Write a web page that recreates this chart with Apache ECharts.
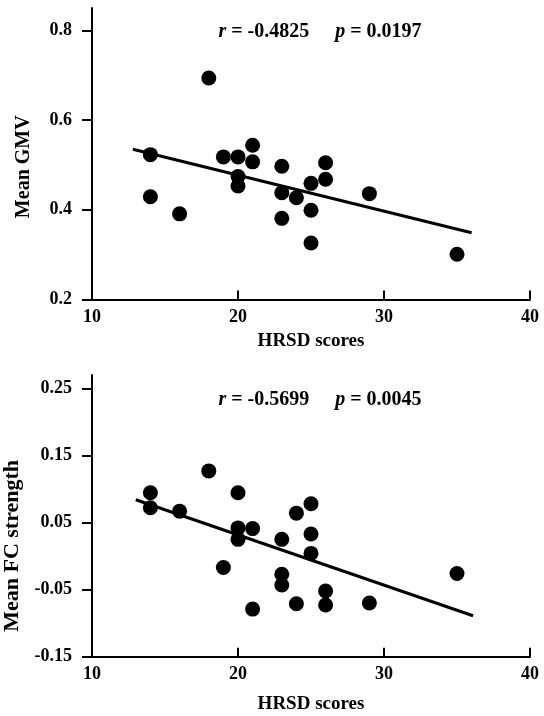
<!DOCTYPE html>
<html>
<head>
<meta charset="utf-8">
<script src="https://cdn.jsdelivr.net/npm/echarts@6/dist/echarts.min.js"></script>
<style>
  html, body { margin: 0; padding: 0; background: #fff; }
  #chart { width: 544px; height: 716px; }
</style>
</head>
<body>
<div id="chart"></div>
<script>
// 上图: HRSD vs Mean GMV
var gmvX = [14, 14, 16, 18, 19, 20, 20, 20, 21, 21, 23, 23, 23, 24, 25, 25, 25, 26, 26, 29, 35];
var gmvY = [0.523, 0.429, 0.391, 0.694, 0.518, 0.518, 0.474, 0.453, 0.544, 0.507, 0.497, 0.438, 0.381, 0.427, 0.459, 0.399, 0.326, 0.505, 0.468, 0.436, 0.301];
var gmvFitX = [12.8, 36.0];
var gmvFitY = [0.535, 0.349];

// 下图: HRSD vs Mean FC strength
var fcX = [14, 14, 16, 18, 19, 20, 20, 20, 21, 21, 23, 23, 23, 24, 24, 25, 25, 25, 26, 26, 29, 35];
var fcY = [0.0945, 0.072, 0.067, 0.127, -0.017, 0.0945, 0.042, 0.025, 0.041, -0.079, 0.025, -0.027, -0.043, 0.064, -0.071, 0.078, 0.033, 0.004, -0.052, -0.073, -0.070, -0.026];
var fcFitX = [13.0, 36.1];
var fcFitY = [0.084, -0.089];

var xTicks = [10, 20, 30, 40];
var gmvTicks = [0.2, 0.4, 0.6, 0.8];
var fcTicks = [-0.15, -0.05, 0.05, 0.15, 0.25];

var gmvStat = ['-0.4825', '0.0197'];
var fcStat = ['-0.5699', '0.0045'];

function pairs(xs, ys) {
    return xs.map(function (x, i) { return [x, ys[i]]; });
}

var FONT = 'Liberation Serif';
var axisLine = { onZero: false, lineStyle: { color: '#000', width: 2 } };
var labelStyle = { color: '#000', fontFamily: FONT, fontWeight: 'bold', fontSize: 18 };

function xAxisOf(gridIndex, gap) {
    return {
        type: 'value', gridIndex: gridIndex, min: 10, max: 40, interval: 10,
        name: 'HRSD scores', nameLocation: 'middle', nameGap: gap,
        nameTextStyle: { color: '#000', fontFamily: FONT, fontWeight: 'bold', fontSize: 19 },
        axisLine: axisLine,
        axisTick: { inside: true, length: 9, customValues: xTicks, lineStyle: { color: '#000', width: 2 } },
        axisLabel: Object.assign({ margin: 9, customValues: xTicks }, labelStyle),
        splitLine: { show: false }
    };
}

function yAxisOf(gridIndex, min, max, ticks, name, gap, size, pad, digits) {
    return {
        type: 'value', gridIndex: gridIndex, min: min, max: max,
        name: name, nameLocation: 'middle', nameGap: gap, nameRotate: 90,
        nameTextStyle: { color: '#000', fontFamily: FONT, fontWeight: 'bold', fontSize: size, padding: [0, pad, 0, 0] },
        axisLine: axisLine,
        axisTick: { length: 10, customValues: ticks, lineStyle: { color: '#000', width: 2 } },
        axisLabel: Object.assign({
            margin: 20, customValues: ticks,
            formatter: function (v) { return v.toFixed(digits); }
        }, labelStyle),
        splitLine: { show: false }
    };
}

// r / p 注释, 居中于绘图区
function statText(y, vals) {
    return {
        type: 'text', x: 320, y: y,
        style: {
            text: '{i|r}{n| = ' + vals[0] + '}{g|}{i|p}{n| = ' + vals[1] + '}',
            align: 'center', verticalAlign: 'middle',
            fill: '#000',
            rich: {
                i: { fontFamily: FONT, fontWeight: 'bold', fontStyle: 'italic', fontSize: 20, fill: '#000' },
                n: { fontFamily: FONT, fontWeight: 'bold', fontSize: 20, fill: '#000' },
                g: { width: 26 }
            }
        }
    };
}

var chart = echarts.init(document.getElementById('chart'));

chart.setOption({
    backgroundColor: '#fff',
    animation: false,
    grid: [
        { left: 92, right: 14, top: 8, height: 291.5, outerBoundsMode: 'none' },
        { left: 92, right: 14, top: 375, height: 281.7, outerBoundsMode: 'none' }
    ],
    xAxis: [xAxisOf(0, 32), xAxisOf(1, 38)],
    yAxis: [
        yAxisOf(0, 0.2, 0.85, gmvTicks, 'Mean GMV', 58, 20, 26, 1),
        yAxisOf(1, -0.15, 0.27, fcTicks, 'Mean FC strength', 68, 22, 60, 2)
    ],
    graphic: [statText(32, gmvStat), statText(400, fcStat)],
    series: [
        {
            type: 'scatter', xAxisIndex: 0, yAxisIndex: 0,
            symbolSize: 15, itemStyle: { color: '#000', opacity: 1 },
            data: pairs(gmvX, gmvY)
        },
        {
            type: 'line', xAxisIndex: 0, yAxisIndex: 0,
            symbol: 'none', lineStyle: { color: '#000', width: 3 },
            data: pairs(gmvFitX, gmvFitY)
        },
        {
            type: 'scatter', xAxisIndex: 1, yAxisIndex: 1,
            symbolSize: 15, itemStyle: { color: '#000', opacity: 1 },
            data: pairs(fcX, fcY)
        },
        {
            type: 'line', xAxisIndex: 1, yAxisIndex: 1,
            symbol: 'none', lineStyle: { color: '#000', width: 3 },
            data: pairs(fcFitX, fcFitY)
        }
    ]
});
</script>
</body>
</html>
